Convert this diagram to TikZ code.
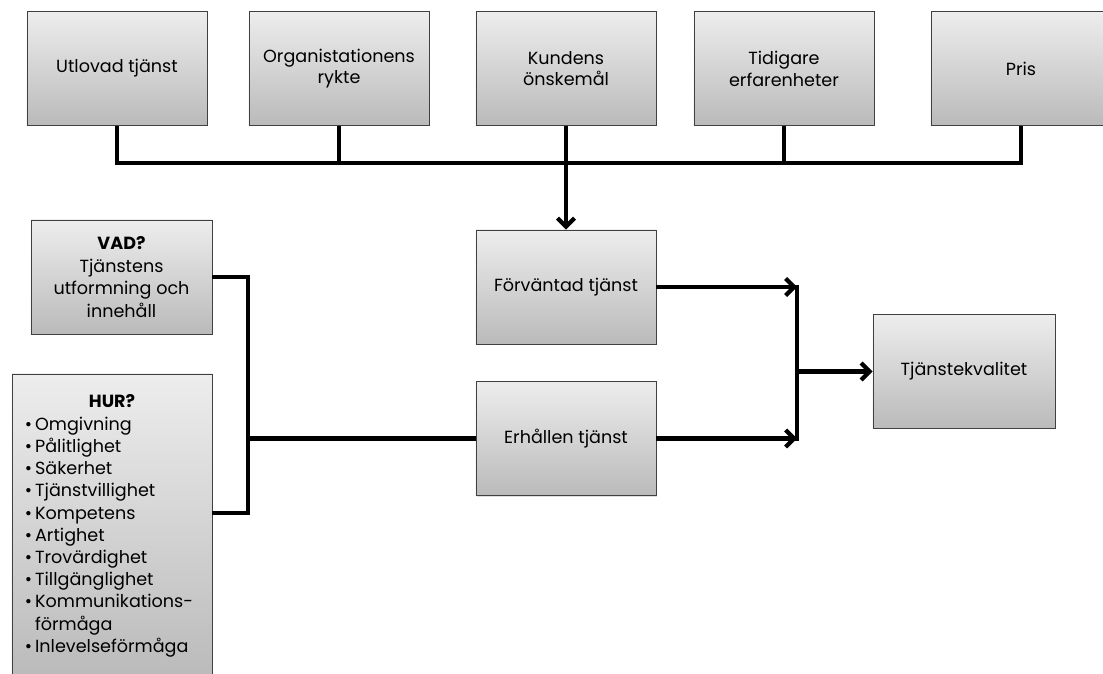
\documentclass[tikz,border=0pt]{standalone}
\usepackage{fontspec}
\setmainfont{Poppins}
\usetikzlibrary{positioning,arrows.meta,shadows}
\tikzset{
  box/.style={draw=black!75,line width=0.6pt,top color=black!7,bottom color=black!27,
    minimum width=4.5cm,minimum height=2.83cm,align=center,inner sep=2pt,
    font=\fontsize{12.5}{15.5}\selectfont,
    drop shadow={opacity=0.25,shadow xshift=0.8pt,shadow yshift=-0.8pt}},
  conn/.style={line width=3pt},
  arr/.style={conn,-{Straight Barb[length=6pt,width=12pt]}}
}
\begin{document}
\begin{tikzpicture}[x=0.025cm,y=-0.025cm]
		\useasboundingbox (0,0) rectangle (1103,673);
		\clip (0,0) rectangle (1103,673);
		% faktorer
		\node[box] (utlovad) at (117,68.5) {Utlovad tjänst};
		\node[box] (rykte) at (339,68.5) {Organistationens\\rykte};
		\node[box] (onskemal) at (566,68.5) {Kundens\\önskemål};
		\node[box] (erfar) at (784,68.5) {Tidigare\\erfarenheter};
		\node[box] (pris) at (1021,68.5) {Pris};
		\node[box,minimum height=2.85cm] (forv) at (566,287) {Förväntad tjänst};
		\node[box,minimum height=2.85cm] (erh) at (566,438.5) {Erhållen tjänst};
		\node[box,minimum width=4.55cm] (kval) at (964,371.5) {Tjänstekvalitet};
		\node[box,minimum width=4.525cm,minimum height=2.85cm,font=\fontsize{12.5}{16.2}\selectfont] (vad) at (121.5,277)
			{\textbf{VAD?}\\Tjänstens\\utformning och\\innehåll};
		\node[box,minimum width=5cm,minimum height=7.6cm,text width=4.35cm,align=left,font=\fontsize{12.5}{15.8}\selectfont] (hur) at (112,526)
			{\hfill\textbf{HUR?}\hfill\null\\
			\textbullet\,Omgivning\\
			\textbullet\,Pålitlighet\\
			\textbullet\,Säkerhet\\
			\textbullet\,Tjänstvillighet\\
			\textbullet\,Kompetens\\
			\textbullet\,Artighet\\
			\textbullet\,Trovärdighet\\
			\textbullet\,Tillgänglighet\\
			\textbullet\,Kommunikations-\\
			\phantom{\textbullet\,}förmåga\\
			\textbullet\,Inlevelseförmåga};
		% ledningar
		\coordinate (bus) at (0,163);
		\coordinate (mx) at (797,0);
		\coordinate (lbot) at (248,513);
		\draw[conn] (utlovad.south) |- (pris.south |- bus) -- (pris.south);
		\draw[conn] (rykte.south) -- (rykte.south |- bus);
		\draw[conn] (erfar.south) -- (erfar.south |- bus);
		\draw[arr] (onskemal.south) -- (forv.north);
		\draw[conn] (vad.east) -| (lbot) -- (lbot -| hur.east);
		\draw[conn] (lbot |- erh.west) -- (erh.west);
		\draw[arr] (forv.east) -- (forv.east -| mx);
		\draw[arr] (erh.east) -- (erh.east -| mx);
		\draw[conn,line cap=rect] (forv.east -| mx) -- (erh.east -| mx);
		\draw[arr] (kval.west -| mx) -- (kval.west);
	\end{tikzpicture}
\end{document}
